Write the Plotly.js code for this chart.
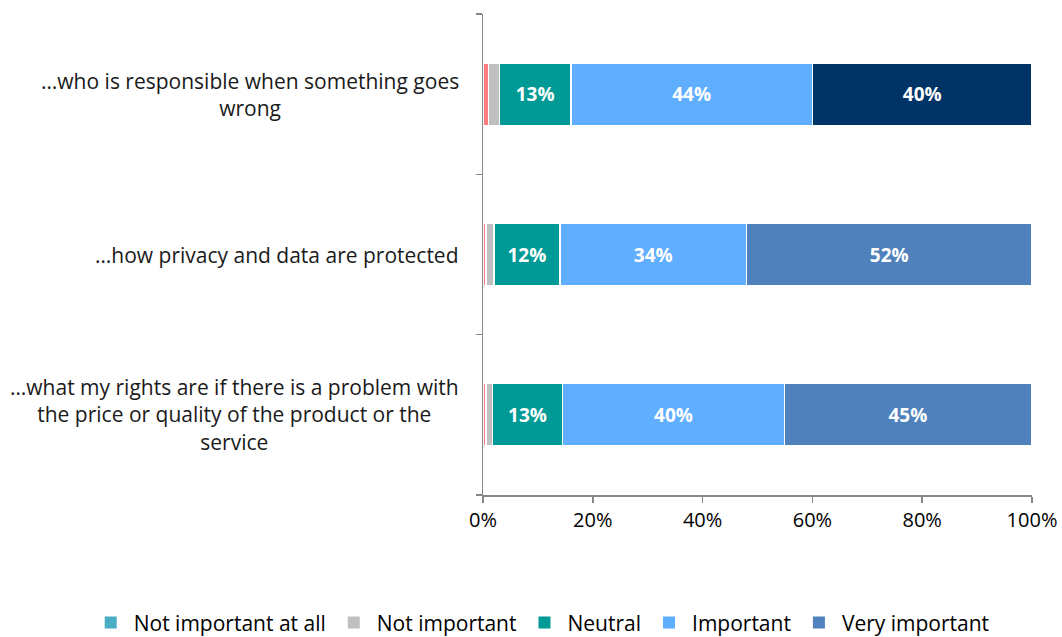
<!DOCTYPE html>
<html><head><meta charset="utf-8">
<script src="https://cdn.plot.ly/plotly-3.0.1.min.js"></script>
<style>html,body{margin:0;padding:0;background:#fff}#chart{width:1062px;height:637px}</style>
</head><body><div id="chart"></div>
<script>
// Categories (bottom to top)
const categories = [
  "…what my rights are if there is a problem with<br>the price or quality of the product or the<br>service",
  "…how privacy and data are protected",
  "…who is responsible when something goes<br>wrong"
];
const seriesNames = ["Not important at all", "Not important", "Neutral", "Important", "Very important"];
const notImportantAtAll = [0.5, 0.5, 1];
const notImportant = [1.2, 1.5, 2];
const neutral = [12.8, 12, 13];
const important = [40.4, 34, 44];
const veryImportant = [45, 52, 40];
const xTicks = [0, 20, 40, 60, 80, 100];
const xTickLabels = ["0%", "20%", "40%", "60%", "80%", "100%"];

const barColors = {
  "Not important at all": ["#FF7C80", "#FF7C80", "#FF7C80"],
  "Not important": ["#C0C0C0", "#C0C0C0", "#C0C0C0"],
  "Neutral": ["#009A96", "#009A96", "#009A96"],
  "Important": ["#5FAEFF", "#5FAEFF", "#5FAEFF"],
  "Very important": ["#4F81BD", "#4F81BD", "#003366"]
};
const legendColors = ["#4BACC6", "#C0C0C0", "#009A96", "#5FAEFF", "#4F81BD"];
const values = [notImportantAtAll, notImportant, neutral, important, veryImportant];
const showText = [false, false, true, true, true];

const font = "Open Sans, Noto Sans, sans-serif";
const traces = [];
seriesNames.forEach((name, i) => {
  traces.push({
    type: "bar", orientation: "h", name: name, showlegend: false,
    y: categories, x: values[i],
    marker: {color: barColors[name], line: {color: "#FFFFFF", width: 1.5}},
    texttemplate: showText[i] ? "<b>%{x:.0f}%</b>" : "",
    textposition: showText[i] ? "inside" : "none",
    insidetextanchor: "middle",
    textfont: {color: "#FFFFFF", size: 19, family: font},
    hoverinfo: "skip"
  });
});
seriesNames.forEach((name, i) => {
  traces.push({
    type: "bar", orientation: "h", name: name, showlegend: true,
    y: [categories[0]], x: [null],
    marker: {color: legendColors[i]}, hoverinfo: "skip"
  });
});

const annotations = categories.map(c => ({
  x: 0, xref: "paper", y: c, yref: "y", xanchor: "right", yanchor: "middle",
  xshift: -22, text: c, showarrow: false, align: "center",
  font: {family: font, size: 21, color: "#1a1a1a"}
}));

const layout = {
  width: 1062, height: 637,
  margin: {l: 483, r: 30, t: 14, b: 142, autoexpand: false},
  barmode: "stack", bargap: 0.61,
  paper_bgcolor: "#fff", plot_bgcolor: "#fff",
  font: {family: font, color: "#000"},
  xaxis: {range: [0, 100], tickvals: xTicks, ticktext: xTickLabels,
    showgrid: false, zeroline: false, showline: true, linecolor: "#868686", linewidth: 1.5,
    ticks: "outside", ticklen: 6, tickcolor: "#868686", tickwidth: 1.5,
    tickfont: {size: 20, family: font, color: "#000"}},
  yaxis: {type: "category", showticklabels: false, showgrid: false, zeroline: false,
    showline: true, linecolor: "#868686", linewidth: 1.5,
    ticks: "outside", tickson: "boundaries", ticklen: 6, tickcolor: "#868686", tickwidth: 1.5,
    range: [-0.5, 2.5]},
  legend: {orientation: "h", xref: "paper", yref: "paper", x: -0.72, xanchor: "left",
    y: -0.266, yanchor: "middle", font: {size: 21, family: font, color: "#000"},
    traceorder: "normal", itemwidth: 36},
  annotations: annotations
};
Plotly.newPlot("chart", traces, layout, {displayModeBar: false, staticPlot: true});
</script></body></html>
